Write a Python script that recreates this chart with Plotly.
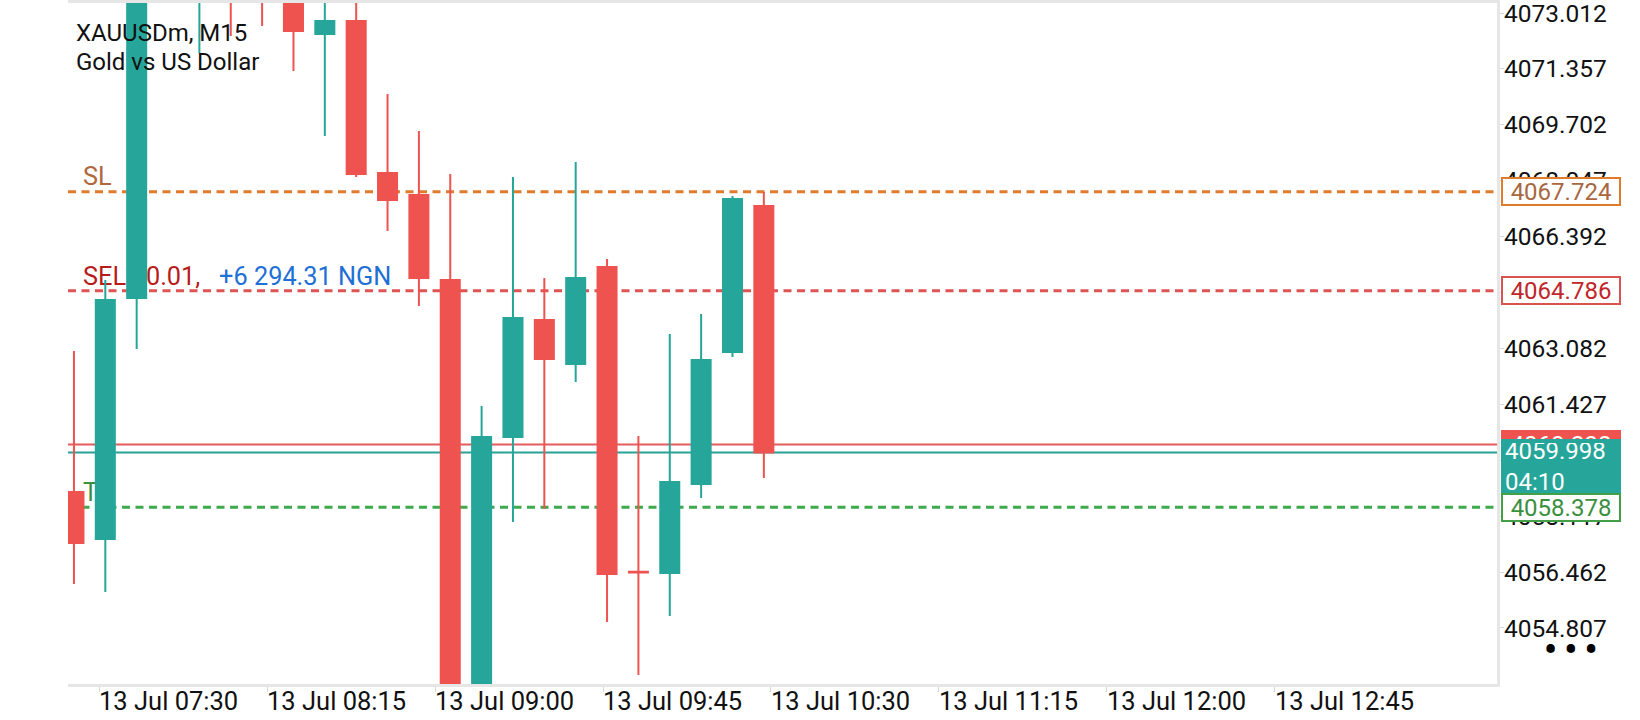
import plotly.graph_objects as go

# ---------------- data ----------------
OPEN  = [4058.832, 4057.441, 4064.575, 4075.800, 4074.600, 4076.200, 4074.800, 4074.000,
         4072.390, 4072.775, 4068.276, 4067.624, 4065.108, 4052.600, 4060.460, 4063.924,
         4062.621, 4065.493, 4056.470, 4056.434, 4059.069, 4062.977, 4067.299]
HIGH  = [4063.006, 4065.108, 4076.300, 4077.000, 4077.100, 4076.900, 4075.300, 4074.600,
         4073.900, 4073.700, 4070.614, 4069.519, 4068.246, 4061.378, 4068.157, 4065.167,
         4068.601, 4065.730, 4060.490, 4063.509, 4064.101, 4067.595, 4067.713]
LOW   = [4056.109, 4055.872, 4063.065, 4074.000, 4071.828, 4072.331, 4072.627, 4071.295,
         4069.371, 4068.157, 4066.559, 4064.338, 4051.900, 4052.000, 4057.944, 4058.329,
         4062.088, 4054.984, 4053.415, 4055.161, 4058.655, 4062.829, 4059.247]
CLOSE = [4057.322, 4064.516, 4075.800, 4074.600, 4076.200, 4074.800, 4074.000, 4072.479,
         4072.775, 4068.246, 4067.476, 4065.167, 4052.400, 4060.460, 4063.983, 4062.769,
         4065.167, 4056.405, 4056.450, 4059.128, 4062.740, 4067.506, 4059.998]

Y_TICKS = [4073.012, 4071.357, 4069.702, 4068.047, 4066.392, 4064.737,
           4063.082, 4061.427, 4059.772, 4058.117, 4056.462, 4054.807]
X_TICK_LABELS = ["13 Jul 07:30", "13 Jul 08:15", "13 Jul 09:00", "13 Jul 09:45",
                 "13 Jul 10:30", "13 Jul 11:15", "13 Jul 12:00", "13 Jul 12:45"]

SL_PRICE = 4067.724
ENTRY_PRICE = 4064.786
TP_PRICE = 4058.378
ASK_PRICE = 4060.238
BID_PRICE = 4059.998
COUNTDOWN = "04:10"
SYMBOL = "XAUUSDm, M15"
DESCRIPTION = "Gold vs US Dollar"
ORDER_TEXT = "SELL 0.01,"
PROFIT_TEXT = "+6 294.31 NGN"

# ---------------- layout settings ----------------
W, H = 1640, 720
ML, MR, MT, MB = 68, 143, 3, 36
FONT = "Roboto"
UP, DOWN = "#26a69a", "#ef5350"
X_RANGE = [-0.19, 45.38]
Y_RANGE = [4053.148, 4073.308]
FIRST_LABEL_BAR, BARS_PER_LABEL = 0.80, 5.357

bars = list(range(len(OPEN)))
tickpos = [FIRST_LABEL_BAR + BARS_PER_LABEL * k for k in range(len(X_TICK_LABELS))]

fig = go.Figure()

# labels under candles (base subplot)
nb = "\u00a0"
fig.add_trace(go.Scatter(
    x=[0.29, 0.29, 0.29],
    y=[SL_PRICE, ENTRY_PRICE, TP_PRICE],
    mode="text",
    text=["SL",
          f"<span style='color:#b71c1c'>{ORDER_TEXT.replace(' ', nb)}</span>{nb*3}"
          f"<span style='color:#1e6fd6'>{PROFIT_TEXT.replace(' ', nb)}</span>",
          "TP"],
    textposition="top right",
    textfont=dict(family=FONT, size=25.3, color=["#b0673c", "#b71c1c", "#3a8f3f"]),
    hoverinfo="skip", showlegend=False, xaxis="x", yaxis="y",
))

# candles (overlay subplot, drawn above labels)
fig.add_trace(go.Candlestick(
    x=bars, open=OPEN, high=HIGH, low=LOW, close=CLOSE,
    increasing=dict(line=dict(color=UP, width=2), fillcolor=UP),
    decreasing=dict(line=dict(color=DOWN, width=2), fillcolor=DOWN),
    whiskerwidth=0, showlegend=False, hoverinfo="skip",
    xaxis="x2", yaxis="y2",
))

shapes = []
for price, color in [(SL_PRICE, "#e07b2c"), (ENTRY_PRICE, "#de5454"), (TP_PRICE, "#3daa4d")]:
    shapes.append(dict(type="line", xref="paper", x0=0, x1=1, yref="y", y0=price, y1=price,
                       line=dict(color=color, width=3, dash="8px,5.5px"), layer="below"))
shapes.append(dict(type="line", xref="paper", x0=0, x1=1, yref="y", y0=ASK_PRICE, y1=ASK_PRICE,
                   line=dict(color="#e35d5d", width=2), layer="below"))
shapes.append(dict(type="line", xref="paper", x0=0, x1=1, yref="y", y0=BID_PRICE, y1=BID_PRICE,
                   line=dict(color="#2aa198", width=2), layer="below"))

pw = W - ML - MR
ph = H - MT - MB
def px_x(p):
    return (p - ML) / pw
def px_y(p):
    return (H - MB - p) / ph

annotations = [
    dict(text=SYMBOL, xref="paper", yref="paper", x=px_x(74), y=px_y(33), xanchor="left",
         yanchor="middle", showarrow=False, font=dict(family=FONT, size=24, color="#111111")),
    dict(text=DESCRIPTION, xref="paper", yref="paper", x=px_x(74), y=px_y(62), xanchor="left",
         yanchor="middle", showarrow=False, font=dict(family=FONT, size=24, color="#111111")),
]

def price_box(price, text, border, bg, fcolor, height=21, yshift=0, align="center"):
    return dict(text=text, xref="paper", yref="y", x=px_x(1501), y=price, xanchor="left",
                yanchor="middle", showarrow=False, bgcolor=bg, bordercolor=border,
                borderwidth=2, borderpad=2, width=112, height=height, align=align,
                yshift=yshift, font=dict(family=FONT, size=24, color=fcolor))

annotations.append(price_box(SL_PRICE, f"{SL_PRICE:.3f}", "#e07b2c", "white", "#a9673f"))
annotations.append(price_box(ENTRY_PRICE, f"{ENTRY_PRICE:.3f}", "#d9534f", "white", "#c0262a"))
annotations.append(price_box(ASK_PRICE, f"{ASK_PRICE:.3f}", DOWN, DOWN, "white"))
annotations.append(price_box(BID_PRICE, f"{BID_PRICE:.3f}<br>{COUNTDOWN}", UP, UP, "white",
                             height=47, yshift=-14, align="left"))
annotations.append(price_box(TP_PRICE, f"{TP_PRICE:.3f}", "#43a047", "white", "#3a8f3f"))
annotations.append(dict(text="<b>\u2022\u2009\u2022\u2009\u2022</b>", xref="paper", yref="paper",
                        x=px_x(1571), y=px_y(650), xanchor="center", yanchor="middle",
                        showarrow=False, font=dict(family=FONT, size=36, color="#000000")))

fig.update_layout(
    width=W, height=H,
    margin=dict(l=ML, r=MR, t=MT, b=MB, autoexpand=False),
    paper_bgcolor="white", plot_bgcolor="white",
    showlegend=False,
    boxgap=0.18, boxgroupgap=0.26,
    shapes=shapes, annotations=annotations,
    xaxis=dict(range=X_RANGE, showgrid=False, zeroline=False, showline=True, mirror=True,
               linecolor="#e6e6e6", linewidth=3, ticks="outside", ticklen=5, tickcolor="#d6d6d6",
               tickvals=tickpos, ticktext=X_TICK_LABELS, ticklabelposition="outside right",
               ticklabeloverflow="allow", ticklabelstandoff=-8, ticklabelshift=-2,
               tickfont=dict(family=FONT, size=25.5, color="#111111"),
               rangeslider=dict(visible=False), fixedrange=True, automargin=False),
    yaxis=dict(range=Y_RANGE, side="right", showgrid=False, zeroline=False, showline=True,
               linecolor="#e6e6e6", linewidth=3, ticks="outside", ticklen=4, tickcolor="#d6d6d6",
               tickvals=Y_TICKS, ticktext=[f"{v:.3f}" for v in Y_TICKS],
               tickfont=dict(family=FONT, size=24.5, color="#111111"),
               ticklabelstandoff=-5, ticklabeloverflow="allow", fixedrange=True, automargin=False),
    xaxis2=dict(range=X_RANGE, overlaying="x", anchor="y2", visible=False,
                rangeslider=dict(visible=False), fixedrange=True, automargin=False),
    yaxis2=dict(range=Y_RANGE, overlaying="y", anchor="x2", side="right", visible=False,
                fixedrange=True, automargin=False),
)

fig.write_html("out.html", config={"displayModeBar": False},
               post_script="document.body.style.margin='0';document.body.style.overflow='hidden';")
